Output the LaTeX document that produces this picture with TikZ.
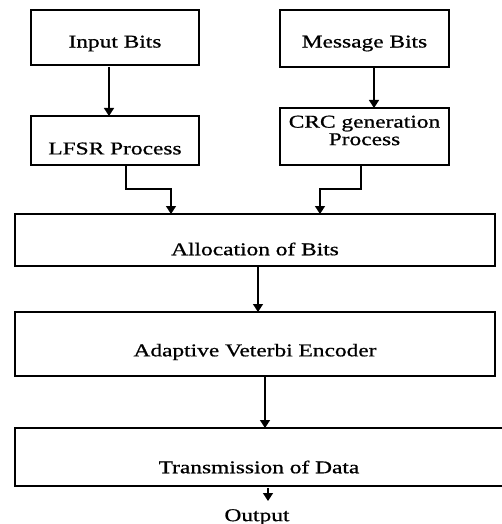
\documentclass[tikz,border=0pt]{standalone}
\usepackage{fontspec}
\setmainfont{Liberation Serif}[FakeStretch=1.3,FakeBold=0.8]
\usetikzlibrary{arrows.meta}
\begin{document}
\begin{tikzpicture}[x=1pt,y=-1pt,
  box/.style={draw,line width=1.4pt,inner sep=0pt,outer sep=0pt},
  lbl/.style={font=\fontsize{18}{16}\selectfont,inner sep=0pt},
  arr/.style={line width=1.4pt,-{Triangle[width=10pt,length=8pt]}}]
\useasboundingbox (0,0) rectangle (502,524);
\node[box,minimum width=168pt,minimum height=55pt,label={[lbl,yshift=-6pt]center:Input Bits}] (in) at (115,37.5) {};
\node[box,minimum width=169pt,minimum height=57pt,label={[lbl,yshift=-5pt]center:Message Bits}] (msg) at (364.5,38.5) {};
\node[box,minimum width=168pt,minimum height=49pt,label={[lbl,yshift=-8pt]center:LFSR Process}] (lfsr) at (115,140.5) {};
\node[box,minimum width=169pt,minimum height=57pt,label={[lbl,font=\fontsize{18}{17.5}\selectfont,align=center,yshift=6pt]center:CRC generation\\Process}] (crc) at (364.5,136.5) {};
\node[box,minimum width=480pt,minimum height=52pt,label={[lbl,yshift=-9pt]center:Allocation of Bits}] (alloc) at (255,240) {};
\node[box,minimum width=480pt,minimum height=64pt,label={[lbl,yshift=-8pt]center:Adaptive Veterbi Encoder}] (adapt) at (255,344) {};
\node[box,minimum width=488pt,minimum height=58pt,label={[lbl,yshift=-10pt]center:Transmission of Data}] (trans) at (259,457) {};
\node[lbl,anchor=north] (out) at (257,509) {Output};
\draw[arr] ([yshift=-2pt]in.south -| 109,0) -- (lfsr.north -| 109,0);
\draw[arr] (msg.south -| 374,0) -- (crc.north -| 374,0);
\draw[arr] (lfsr.south -| 126,0) |- (171,189) -- (alloc.north -| 171,0);
\draw[arr] (crc.south -| 361,0) |- (320,189) -- (alloc.north -| 320,0);
\draw[arr] (alloc.south -| 258,0) -- (adapt.north -| 258,0);
\draw[arr] (adapt.south -| 265,0) -- (trans.north -| 265,0);
\draw[arr] ([yshift=-2pt]trans.south -| 268,0) -- ([yshift=8pt]out.north -| 268,0);
\end{tikzpicture}
\end{document}
